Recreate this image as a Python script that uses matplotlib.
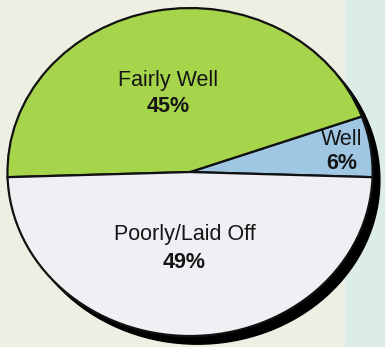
import matplotlib.pyplot as plt
from matplotlib.patches import Ellipse

labels = ['Well', 'Fairly Well', 'Poorly/Laid Off']
shares = [6, 45, 49]
colors = ['#9fc6e2', '#a6d54c', '#eef0f4']

plt.rcParams['font.family'] = ['Liberation Sans', 'DejaVu Sans']

fig = plt.figure(figsize=(3.85, 3.47), dpi=100, facecolor='#eeefe3')
ax = fig.add_axes([0, 0, 1, 1])
ax.set_facecolor('#eeefe3')

# lighter cyan strip on the right side of the page
ax.axvspan(0.85, 1.2, color='#dcece7', zorder=0, lw=0)

# drop shadow behind the pie
ax.add_patch(Ellipse((0.04, -0.05), 2.0, 2.0, color='black', zorder=1))

# Poorly/Laid Off is centred at the bottom, Well starts just under the right side
start = 270 + shares[2] / 100 * 360 / 2
wedges, _ = ax.pie(shares, colors=colors, startangle=start, counterclock=True,
                   radius=1.0, wedgeprops=dict(edgecolor='#111111', linewidth=1.6))
for w in wedges:
    w.set_zorder(2)

ax.set_aspect('auto')
ax.set_xlim(-1.041, 1.068)
ax.set_ylim(-1.067, 1.049)
ax.axis('off')

txt = dict(ha='center', va='center', color='#151515', fontsize=15.5, zorder=5)
ax.text(-0.12, 0.56, labels[1], **txt)
ax.text(-0.12, 0.40, f'{shares[1]}%', fontweight='bold', **txt)
ax.text(0.83, 0.20, labels[0], **txt)
ax.text(0.83, 0.055, f'{shares[0]}%', fontweight='bold', **txt)
ax.text(-0.03, -0.384, labels[2], **txt)
ax.text(-0.03, -0.549, f'{shares[2]}%', fontweight='bold', **txt)

fig.savefig('out.png', dpi=100, facecolor=fig.get_facecolor())
